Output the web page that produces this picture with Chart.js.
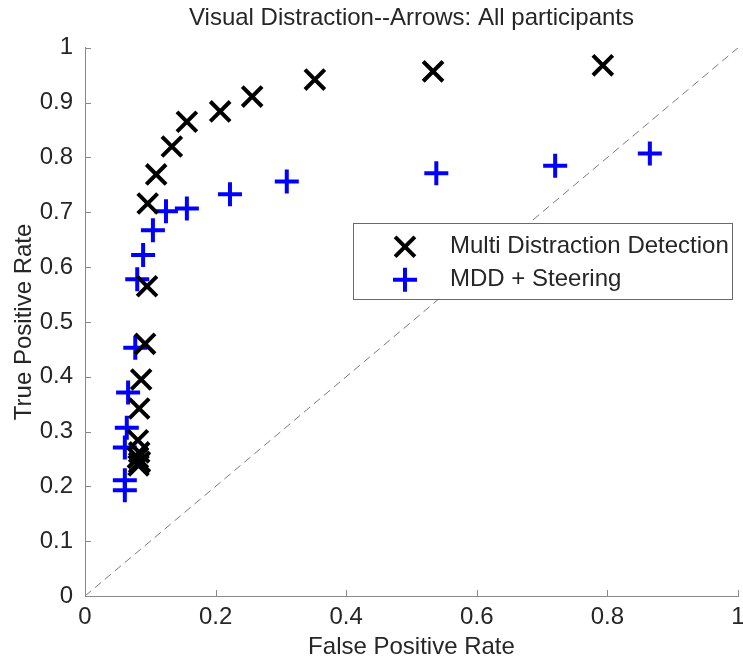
<!DOCTYPE html>
<html>
<head>
<meta charset="utf-8">
<script src="https://cdn.jsdelivr.net/npm/chart.js@4.4.1/dist/chart.umd.min.js"></script>
<style>
  html, body { margin: 0; padding: 0; background: #fff; }
  #wrap { width: 743px; height: 662px; }
</style>
</head>
<body>
<div id="wrap"><canvas id="roc" width="743" height="662"></canvas></div>
<script>
// Nombres de las series
const seriesNames = ['Multi Distraction Detection', 'MDD + Steering']

// Multi Distraction Detection (x negras)
const mddFpr = [0.793, 0.533, 0.352, 0.256, 0.207, 0.156, 0.133, 0.109, 0.096, 0.095, 0.092, 0.086, 0.083, 0.081, 0.083, 0.081, 0.084, 0.082, 0.083]
const mddTpr = [0.968, 0.957, 0.942, 0.911, 0.884, 0.865, 0.820, 0.769, 0.716, 0.565, 0.460, 0.395, 0.342, 0.284, 0.262, 0.252, 0.245, 0.238, 0.243]

// MDD + Steering (+ azules)
const steerFpr = [0.865, 0.720, 0.538, 0.309, 0.222, 0.156, 0.124, 0.104, 0.089, 0.080, 0.077, 0.066, 0.064, 0.061, 0.061, 0.061]
const steerTpr = [0.807, 0.785, 0.771, 0.756, 0.733, 0.707, 0.702, 0.667, 0.622, 0.578, 0.453, 0.371, 0.307, 0.271, 0.211, 0.193]

// Línea de azar
const chanceFpr = [0, 1]
const chanceTpr = [0, 1]

// Marcas de los ejes
const xTicks = [0, 0.2, 0.4, 0.6, 0.8, 1]
const yTicks = [0, 0.1, 0.2, 0.3, 0.4, 0.5, 0.6, 0.7, 0.8, 0.9, 1]

const toPoints = (xs, ys) => xs.map((x, i) => ({ x: x, y: ys[i] }))
const fmtTick = v => String(+Number(v).toFixed(1))

const axisColor = '#8a8a8a'
const textColor = '#262626'
const fontFamily = '"Liberation Sans", Arial, sans-serif'

Chart.defaults.font.family = fontFamily
Chart.defaults.font.size = 24
Chart.defaults.color = textColor

// Marcas hacia dentro y leyenda dentro del área, estilo Matlab
const matlabAxes = {
  id: 'matlabAxes',
  afterDraw(chart) {
    const ctx = chart.ctx
    const area = chart.chartArea
    const xs = chart.scales.x
    const ys = chart.scales.y

    ctx.save()
    ctx.strokeStyle = axisColor
    ctx.lineWidth = 1
    ctx.beginPath()
    xTicks.forEach(v => {
      const px = Math.round(xs.getPixelForValue(v)) + 0.5
      ctx.moveTo(px, area.bottom)
      ctx.lineTo(px, area.bottom - 6)
    })
    yTicks.forEach(v => {
      const py = Math.round(ys.getPixelForValue(v)) + 0.5
      ctx.moveTo(area.left, py)
      ctx.lineTo(area.left + 6, py)
    })
    ctx.stroke()

    // Leyenda
    ctx.font = '24px ' + fontFamily
    const maxText = Math.max(...seriesNames.map(t => ctx.measureText(t).width))
    const boxL = area.left + 268
    const textX = boxL + 97
    const boxT = area.top + 175
    const boxR = textX + maxText + 3
    const boxB = boxT + 76
    ctx.fillStyle = '#fff'
    ctx.fillRect(boxL, boxT, boxR - boxL, boxB - boxT)
    ctx.strokeStyle = '#6a6a6a'
    ctx.strokeRect(Math.round(boxL) + 0.5, Math.round(boxT) + 0.5, Math.round(boxR - boxL), Math.round(boxB - boxT))

    const rows = [boxT + 24, boxT + 57]
    chart.data.datasets.forEach((ds, i) => {
      if (i > 1) return
      const y = rows[i]
      ctx.strokeStyle = ds.borderColor
      ctx.lineWidth = ds.borderWidth
      Chart.helpers.drawPoint(ctx, {
        pointStyle: ds.pointStyle,
        radius: ds.pointRadius,
        borderWidth: ds.borderWidth
      }, boxL + 52, y)
      ctx.fillStyle = textColor
      ctx.textBaseline = 'middle'
      ctx.textAlign = 'left'
      ctx.fillText(ds.label, textX, y)
    })
    ctx.restore()
  }
}

new Chart(document.getElementById('roc'), {
  type: 'scatter',
  data: {
    datasets: [{
      label: seriesNames[0],
      data: toPoints(mddFpr, mddTpr),
      pointStyle: 'crossRot',
      pointRadius: 14,
      borderWidth: 4,
      borderColor: '#000000',
      backgroundColor: '#000000'
    }, {
      label: seriesNames[1],
      data: toPoints(steerFpr, steerTpr),
      pointStyle: 'cross',
      pointRadius: 12,
      borderWidth: 4,
      borderColor: '#0000ff',
      backgroundColor: '#0000ff'
    }, {
      label: 'chance',
      data: toPoints(chanceFpr, chanceTpr),
      showLine: true,
      pointRadius: 0,
      borderWidth: 1,
      borderColor: '#7a7a7a',
      borderDash: [8, 5],
      order: 5
    }]
  },
  options: {
    responsive: false,
    animation: false,
    devicePixelRatio: 1,
    events: [],
    layout: { autoPadding: false, padding: { left: 0, right: 0, top: 0, bottom: 0 } },
    scales: {
      x: {
        type: 'linear',
        min: 0,
        max: 1,
        afterBuildTicks: s => { s.ticks = xTicks.map(v => ({ value: v })) },
        afterFit: s => { s.height = 66; s.paddingLeft = 0; s.paddingRight = 5 },
        ticks: { padding: 0, color: textColor, maxRotation: 0, callback: fmtTick, font: { size: 24, lineHeight: 1.75 } },
        grid: { display: false, drawTicks: false },
        border: { display: true, color: axisColor, width: 1 },
        title: { display: true, text: 'False Positive Rate', color: textColor, padding: { top: 0, bottom: 0 } }
      },
      y: {
        type: 'linear',
        min: 0,
        max: 1,
        afterBuildTicks: s => { s.ticks = yTicks.map(v => ({ value: v })) },
        afterFit: s => { s.width = 85 },
        ticks: { padding: 12, color: textColor, callback: fmtTick },
        grid: { display: false, drawTicks: false },
        border: { display: true, color: axisColor, width: 1 },
        title: { display: true, text: 'True Positive Rate', color: textColor, padding: { top: 10, bottom: 0 } }
      }
    },
    plugins: {
      legend: { display: false },
      tooltip: { enabled: false },
      title: {
        display: true,
        fullSize: false,
        text: 'Visual Distraction--Arrows: All participants',
        color: textColor,
        font: { size: 24, weight: 'normal' },
        padding: { top: 4, bottom: 15 }
      }
    }
  },
  plugins: [matlabAxes]
})
</script>
</body>
</html>
